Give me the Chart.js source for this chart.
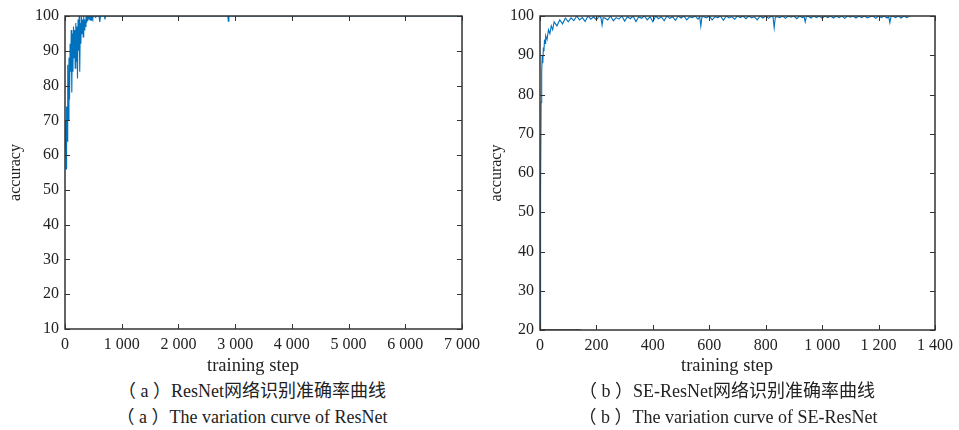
<!DOCTYPE html>
<html>
<head>
<meta charset="utf-8">
<script src="https://cdn.jsdelivr.net/npm/chart.js@4.4.1/dist/chart.umd.min.js"></script>
<style>
  html, body { margin: 0; padding: 0; background: #fff; }
  body { width: 959px; height: 430px; position: relative; overflow: hidden; font-family: 'Liberation Serif', 'Noto Sans CJK SC', serif; color: #222; }
  .box { position: absolute; top: 0; height: 380px; }
  #boxA { left: 0; width: 495px; }
  #boxB { left: 480px; width: 479px; }
  .txt { position: absolute; font-size: 18px; white-space: nowrap; transform: translateX(-50%); line-height: 1; }
  .xt { font-size: 18.5px; }
</style>
</head>
<body>
<div class="box" id="boxA"><canvas id="chartA"></canvas></div>
<div class="box" id="boxB"><canvas id="chartB"></canvas></div>

<div class="txt xt" style="left:253px; top:356px;">training step</div>
<div class="txt xt" style="left:727px; top:356px;">training step</div>
<div class="txt" style="left:252px; top:382px;">（ a ）ResNet网络识别准确率曲线</div>
<div class="txt" style="left:252px; top:408px;">（ a ）The variation curve of ResNet</div>
<div class="txt" style="left:727px; top:382px;">（ b ）SE-ResNet网络识别准确率曲线</div>
<div class="txt" style="left:728px; top:408px;">（ b ）The variation curve of SE-ResNet</div>

<script>
// (a) ResNet accuracy vs training step
const resnetSteps = [
  0, 8, 18, 28, 38, 48, 60, 70, 80, 90, 100, 110, 120, 130, 140, 150, 160, 170, 180, 190,
  200, 210, 220, 230, 240, 250, 260, 270, 280, 290, 300, 310, 320, 330, 340, 350, 360, 370, 380, 390,
  400, 410, 420, 430, 440, 450, 460, 470, 480, 490, 500, 520, 540, 560, 580, 600, 610, 617, 625, 660,
  695, 705, 715, 800, 1000, 1500, 2000, 2500, 2870, 2880, 2890, 3000, 3500, 4000, 4500, 5000, 5500, 6000,
  6500, 6900
];
const resnetAcc = [
  62, 70, 56, 74, 64, 86, 70, 88, 76, 92, 84, 96, 78, 95, 84, 97, 88, 96, 85, 98,
  87, 97, 82, 99, 90, 100, 84, 98, 92, 100, 95, 99, 94, 100, 96, 99, 97, 100, 98, 100,
  98.5, 100, 99, 100, 99.5, 100, 98.8, 100, 100, 99.4, 100, 100, 99.6, 100, 100, 100, 100, 98.3, 100, 100,
  100, 99, 100, 100, 100, 100, 100, 100, 100, 98.5, 100, 100, 100, 100, 100, 100, 100, 100,
  100, 100
];

// (b) SE-ResNet accuracy vs training step
const seSteps = [
  0, 2, 4, 6, 8, 10, 12, 14, 16, 18, 20, 25, 30, 35, 40, 45, 50, 60, 70, 80,
  90, 100, 110, 120, 130, 140, 150, 160, 170, 180, 190, 200, 210, 216, 220, 224, 230, 240, 250, 260,
  270, 280, 290, 300, 310, 320, 330, 340, 350, 360, 370, 380, 390, 400, 410, 420, 430, 440, 450, 460,
  470, 480, 490, 500, 510, 520, 530, 540, 550, 560, 566, 570, 574, 580, 590, 600, 610, 620, 630, 640,
  650, 660, 670, 680, 690, 700, 710, 720, 730, 740, 750, 760, 770, 780, 790, 800, 810, 820, 826, 830,
  834, 840, 850, 860, 870, 880, 890, 900, 910, 920, 930, 936, 940, 944, 950, 960, 970, 980, 990, 1000,
  1010, 1020, 1030, 1040, 1050, 1060, 1070, 1080, 1090, 1100, 1110, 1120, 1130, 1140, 1150, 1160, 1170, 1180, 1190, 1200,
  1210, 1220, 1230, 1236, 1240, 1244, 1250, 1260, 1270, 1280, 1290, 1300, 1310
];
const seAcc = [
  20, 55, 78, 86, 90, 88, 92, 91, 94, 93, 95, 94, 96.5, 95.5, 97.5, 96.5, 98.5, 97.5, 99, 98,
  99.5, 98.5, 99.5, 98.8, 100, 99, 99.6, 98.6, 100, 99.2, 99.8, 99, 100, 99.6, 97.7, 99.6, 99.5, 99, 100, 98.8,
  99.6, 99.2, 100, 98.7, 99.8, 99.3, 100, 98.6, 99.8, 99.4, 100, 99, 99.8, 98.5, 100, 99.3, 99.8, 98.8, 100, 99.4,
  99.8, 98.9, 100, 99.5, 100, 99, 99.8, 99.6, 100, 99.2, 99.8, 97.4, 99.8, 99.8, 99.5, 100, 99, 99.8, 99.6, 100,
  98.9, 100, 99.5, 99.8, 99.2, 100, 99.6, 100, 99.3, 100, 99.5, 99.8, 99, 100, 99.5, 100, 99.4, 100, 99.7, 97,
  99.7, 99.8, 99.6, 100, 99.4, 100, 99.7, 100, 99.3, 100, 99.6, 99.8, 98.5, 99.8, 100, 99.5, 100, 99.6, 100, 99.4,
  100, 99.6, 100, 99.5, 100, 99.6, 100, 99.4, 100, 99.7, 100, 99.5, 100, 99.6, 100, 99.5, 99.8, 100, 99.4, 100,
  99.6, 100, 99.5, 99.8, 98.3, 99.8, 100, 99.6, 100, 99.5, 100, 99.6, 100
];
// short dark segment lying on the bottom axis of (b)
const seFloorSteps = [0, 145];
const seFloorAcc = [20, 20];

const FONT = "'Liberation Serif', 'Times New Roman', serif";
const AXIS_COLOR = '#333';
const LINE_BLUE = '#0072BD';

function fmtThousands(v) {
  return String(v).replace(/\B(?=(\d{3})+(?!\d))/g, ' ');
}

function toPoints(xs, ys) {
  return xs.map((x, i) => ({ x, y: ys[i] }));
}

// draws a MATLAB-like box with inward ticks on all four sides
const boxFrame = {
  id: 'boxFrame',
  afterDatasetsDraw(chart) {
    const { ctx, chartArea: a, scales } = chart;
    const len = 5;
    ctx.save();
    ctx.strokeStyle = AXIS_COLOR;
    ctx.lineWidth = 1;
    scales.x.ticks.forEach((t) => {
      const px = Math.round(scales.x.getPixelForValue(t.value)) + 0.5;
      ctx.beginPath();
      ctx.moveTo(px, a.bottom); ctx.lineTo(px, a.bottom - len);
      ctx.moveTo(px, a.top); ctx.lineTo(px, a.top + len);
      ctx.stroke();
    });
    scales.y.ticks.forEach((t) => {
      const py = Math.round(scales.y.getPixelForValue(t.value)) + 0.5;
      ctx.beginPath();
      ctx.moveTo(a.left, py); ctx.lineTo(a.left + len, py);
      ctx.moveTo(a.right, py); ctx.lineTo(a.right - len, py);
      ctx.stroke();
    });
    ctx.lineWidth = 1.5;
    ctx.strokeRect(a.left, a.top, a.right - a.left, a.bottom - a.top);
    ctx.restore();
  },
};

function makeChart(canvasId, opts) {
  return new Chart(document.getElementById(canvasId), {
    type: 'line',
    data: { datasets: opts.datasets },
    options: {
      responsive: true,
      maintainAspectRatio: false,
      animation: false,
      events: [],
      layout: { autoPadding: false, padding: { top: 16, right: opts.padRight, left: 0, bottom: 0 } },
      plugins: { legend: { display: false }, tooltip: { enabled: false } },
      elements: { point: { radius: 0 }, line: { tension: 0 } },
      scales: {
        x: {
          type: 'linear',
          min: opts.xMin, max: opts.xMax,
          grid: { display: false, drawTicks: false },
          border: { display: false },
          ticks: {
            stepSize: opts.xStep, padding: 6, color: '#222',
            font: { family: FONT, size: 16 },
            maxRotation: 0, autoSkip: false,
            callback: (v) => fmtThousands(v),
          },
          afterFit: (s) => { s.height = opts.xHeight; },
        },
        y: {
          min: opts.yMin, max: opts.yMax,
          grid: { display: false, drawTicks: false },
          border: { display: false },
          ticks: { stepSize: 10, padding: 6, color: '#222', font: { family: FONT, size: 16 } },
          title: { display: true, text: 'accuracy', color: '#222', padding: { top: opts.titlePad, bottom: 0 }, font: { family: FONT, size: 16 } },
          afterFit: (s) => { s.width = opts.yWidth; },
        },
      },
    },
    plugins: [boxFrame],
  });
}

makeChart('chartA', {
  datasets: [{
    data: toPoints(resnetSteps, resnetAcc),
    borderColor: LINE_BLUE, borderWidth: 1.1,
  }],
  xMin: 0, xMax: 7000, xStep: 1000,
  yMin: 10, yMax: 100,
  yWidth: 65, xHeight: 51, padRight: 33, titlePad: 6,
});

makeChart('chartB', {
  datasets: [
    { data: toPoints(seSteps, seAcc), borderColor: LINE_BLUE, borderWidth: 1.1 },
    { data: toPoints(seFloorSteps, seFloorAcc), borderColor: AXIS_COLOR, borderWidth: 1.5 },
  ],
  xMin: 0, xMax: 1400, xStep: 200,
  yMin: 20, yMax: 100,
  yWidth: 60, xHeight: 50, padRight: 24, titlePad: 7,
});
</script>
</body>
</html>
